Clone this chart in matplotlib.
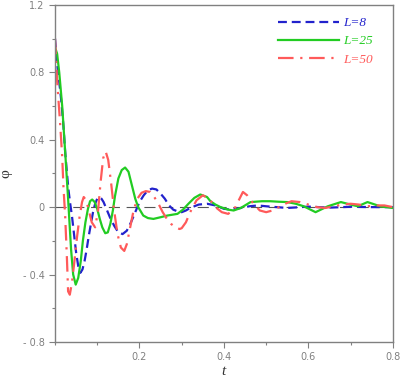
import numpy as np
import matplotlib.pyplot as plt
from matplotlib.ticker import MultipleLocator

# curvas: phi(t) para tres valores de L

t_8 = [0, 0.004, 0.008, 0.012, 0.016, 0.02, 0.024, 0.028, 0.032, 0.036, 0.04,
       0.045, 0.05, 0.055, 0.06, 0.065, 0.07, 0.075, 0.08, 0.085, 0.09, 0.095,
       0.1, 0.105, 0.11, 0.115, 0.12, 0.13, 0.14, 0.15, 0.16, 0.17, 0.18, 0.19,
       0.2, 0.21, 0.22, 0.23, 0.24, 0.25, 0.26, 0.27, 0.28, 0.29, 0.3, 0.31,
       0.32, 0.34, 0.36, 0.38, 0.4, 0.42, 0.44, 0.46, 0.48, 0.5, 0.55, 0.6,
       0.65, 0.7, 0.75, 0.8]
phi_8 = [1.0, 0.88, 0.78, 0.70, 0.60, 0.48, 0.33, 0.21, 0.10, 0.02, -0.05,
         -0.16, -0.27, -0.35, -0.39, -0.37, -0.32, -0.25, -0.17, -0.10, -0.03, 0.02,
         0.05, 0.06, 0.05, 0.03, 0.0, -0.06, -0.11, -0.15, -0.16, -0.14, -0.09, -0.03,
         0.03, 0.07, 0.10, 0.11, 0.105, 0.08, 0.05, 0.01, -0.015, -0.025, -0.03, -0.02,
         -0.005, 0.015, 0.02, 0.01, -0.01, -0.015, -0.005, 0.005, 0.01, 0.005, -0.005, 0.003,
         -0.003, 0.002, 0.0, 0.0]

t_25 = [0, 0.005, 0.01, 0.017, 0.024, 0.031, 0.038, 0.043, 0.049, 0.055, 0.061,
        0.066, 0.072, 0.078, 0.083, 0.088, 0.094, 0.1, 0.106, 0.112, 0.119, 0.125,
        0.131, 0.137, 0.142, 0.15, 0.158, 0.166, 0.174, 0.183, 0.19, 0.197, 0.209,
        0.22, 0.233, 0.25, 0.266, 0.29, 0.303, 0.316, 0.33, 0.344, 0.36, 0.368,
        0.38, 0.392, 0.41, 0.423, 0.44, 0.463, 0.49, 0.51, 0.53, 0.55, 0.57,
        0.589, 0.617, 0.646, 0.677, 0.7, 0.717, 0.74, 0.77, 0.8]
phi_25 = [0.95, 0.91, 0.80, 0.60, 0.33, 0.05, -0.25, -0.40, -0.46, -0.42, -0.32,
          -0.20, -0.09, -0.01, 0.035, 0.045, 0.03, -0.01, -0.07, -0.12, -0.155, -0.15,
          -0.10, -0.02, 0.065, 0.17, 0.22, 0.235, 0.21, 0.12, 0.05, 0.0, -0.05,
          -0.065, -0.07, -0.06, -0.05, -0.04, -0.015, 0.02, 0.055, 0.075, 0.06, 0.035,
          0.015, 0.0, -0.015, -0.02, -0.005, 0.03, 0.035, 0.035, 0.032, 0.03, 0.02,
          0.005, -0.03, 0.005, 0.03, 0.015, 0.005, 0.03, 0.005, -0.005]

t_50 = [0, 0.005, 0.012, 0.017, 0.02, 0.024, 0.028, 0.031, 0.035, 0.04, 0.046,
        0.052, 0.058, 0.064, 0.068, 0.074, 0.08, 0.087, 0.095, 0.102, 0.108, 0.114,
        0.12, 0.126, 0.133, 0.14, 0.148, 0.156, 0.164, 0.17, 0.178, 0.186, 0.195,
        0.205, 0.215, 0.225, 0.235, 0.245, 0.255, 0.265, 0.275, 0.285, 0.295, 0.3,
        0.31, 0.32, 0.335, 0.35, 0.365, 0.38, 0.395, 0.41, 0.425, 0.435, 0.445,
        0.455, 0.47, 0.485, 0.5, 0.515, 0.53, 0.545, 0.56, 0.58, 0.6, 0.62,
        0.64, 0.66, 0.68, 0.7, 0.72, 0.74, 0.76, 0.78, 0.8]
phi_50 = [1.0, 0.75, 0.50, 0.30, 0.12, -0.05, -0.29, -0.50, -0.52, -0.45, -0.32,
          -0.18, -0.06, 0.03, 0.06, 0.04, -0.02, -0.09, -0.12, -0.02, 0.15, 0.29,
          0.33, 0.28, 0.14, -0.02, -0.16, -0.24, -0.26, -0.22, -0.12, -0.02, 0.05,
          0.085, 0.095, 0.09, 0.06, 0.02, -0.03, -0.07, -0.10, -0.12, -0.13, -0.125,
          -0.09, -0.03, 0.04, 0.07, 0.05, 0.0, -0.03, -0.04, -0.01, 0.04, 0.09,
          0.07, 0.02, -0.02, -0.03, -0.02, 0.0, 0.02, 0.035, 0.03, 0.015, 0.0,
          -0.005, 0.005, 0.015, 0.02, 0.015, 0.005, 0.01, 0.01, 0.0]

etiquetas = ['L=8', 'L=25', 'L=50']

# GRAFICA
fig = plt.figure(figsize=(4.09, 3.82), dpi=100)
ax = fig.add_axes([0.1345, 0.105, 0.826, 0.882])

gris = '#808080'
ax.axhline(0, color='#555555', lw=0.8, dashes=(10, 6), zorder=1)

ax.plot(t_8, phi_8, color='#2222cc', lw=1.6, dashes=(4, 2.2), label=etiquetas[0])
ax.plot(t_25, phi_25, color='#22cc22', lw=1.6, label=etiquetas[1])
ax.plot(t_50, phi_50, color='#ff5a5a', lw=1.6, dashes=(7, 3, 1, 3), label=etiquetas[2])

ax.set_xlim(0, 0.8)
ax.set_ylim(-0.8, 1.2)
ax.set_xticks([0.2, 0.4, 0.6, 0.8])
ax.set_xticklabels(['0.2', '0.4', '0.6', '0.8'])
ax.set_yticks([-0.8, -0.4, 0, 0.4, 0.8, 1.2])
ax.set_yticklabels(['- 0.8', '- 0.4', '0', '0.4', '0.8', '1.2'])
ax.xaxis.set_minor_locator(MultipleLocator(0.1))
ax.yaxis.set_minor_locator(MultipleLocator(0.2))
ax.tick_params(which='both', direction='out', colors=gris, labelcolor=gris,
               labelsize=7, width=0.8)
ax.tick_params(which='major', length=4)
ax.tick_params(which='minor', length=2.5)
for s in ax.spines.values():
    s.set_color(gris)
    s.set_linewidth(1.0)

ax.set_xlabel('t', family='Liberation Serif', style='italic', fontsize=11,
              color='#333333', labelpad=2)
ax.set_ylabel('φ', family='Liberation Serif', fontsize=11, color='#333333')
ax.yaxis.set_label_coords(-0.125, 0.5)

leg = ax.legend(loc='upper right', bbox_to_anchor=(0.955, 0.98), frameon=False,
                handlelength=4.6, handletextpad=0.3, labelspacing=0.45,
                borderaxespad=0, labelcolor='linecolor',
                prop={'family': 'Liberation Serif', 'style': 'italic', 'size': 9.5})

fig.savefig('out.png', dpi=100)
